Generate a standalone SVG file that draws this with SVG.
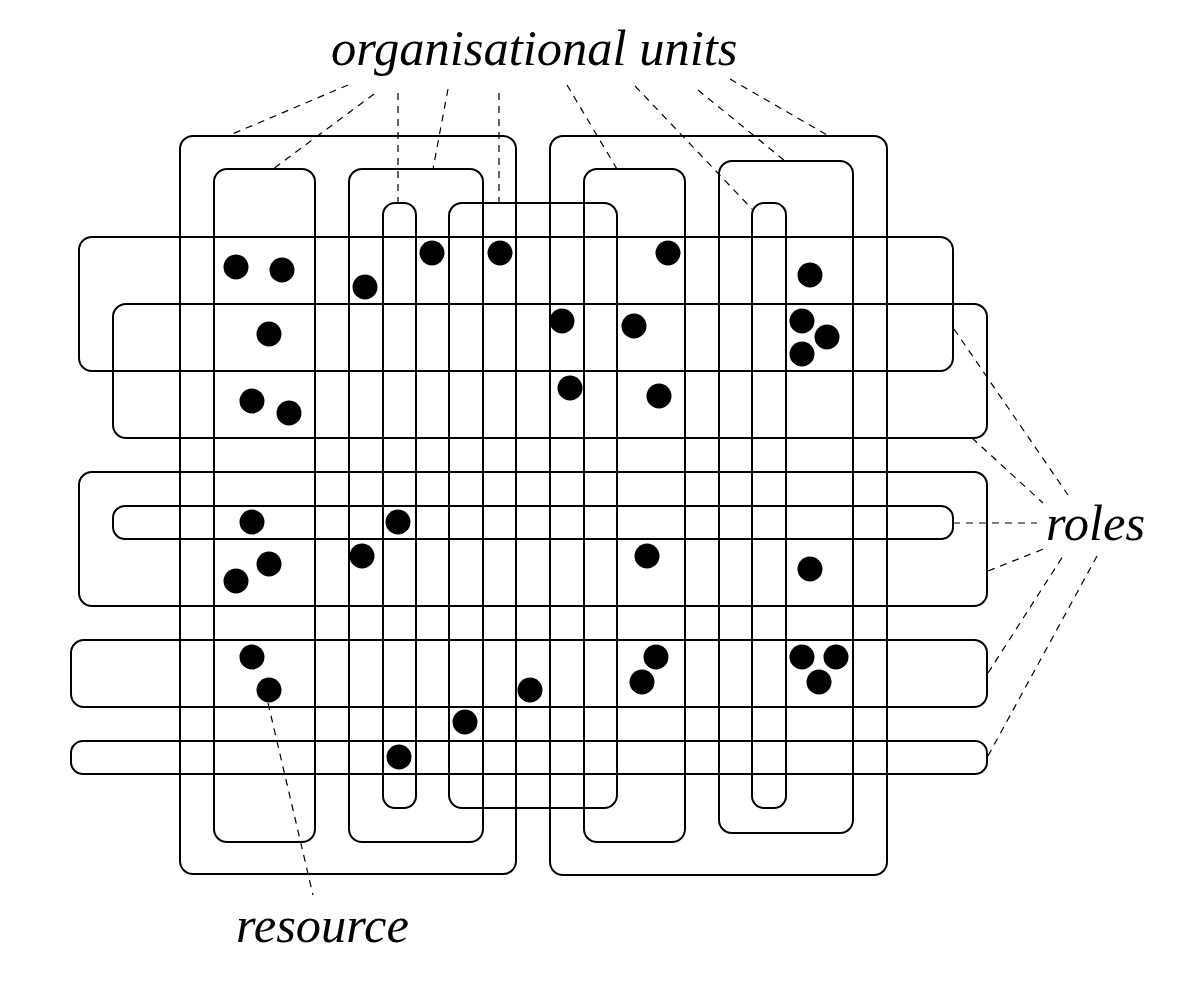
<svg xmlns="http://www.w3.org/2000/svg" width="1200" height="989" viewBox="0 0 1200 989">
<style>
.box{fill:none;stroke:#000;stroke-width:2}
.dash{fill:none;stroke:#000;stroke-width:1.2;stroke-dasharray:7,6}
.dot{fill:#000}
.lbl{font-family:"Liberation Serif","Times New Roman",serif;font-style:italic;font-size:50.5px;fill:#000}
</style>
<rect width="1200" height="989" fill="#fff"/>
<g id="org-units">
<rect id="ou1" class="box" x="180" y="136" width="336" height="738" rx="13"/>
<rect id="ou2" class="box" x="214" y="169" width="101" height="673" rx="13"/>
<rect id="ou3" class="box" x="349" y="169" width="134" height="673" rx="13"/>
<rect id="ou4" class="box" x="383" y="203" width="33" height="605" rx="12"/>
<rect id="ou5" class="box" x="449" y="203" width="168" height="605" rx="13"/>
<rect id="ou6" class="box" x="550" y="136" width="337" height="739" rx="13"/>
<rect id="ou7" class="box" x="584" y="169" width="101" height="673" rx="13"/>
<rect id="ou8" class="box" x="719" y="161" width="134" height="672" rx="13"/>
<rect id="ou9" class="box" x="752" y="203" width="34" height="605" rx="12"/>
</g>
<g id="roles">
<rect id="r1" class="box" x="79" y="237" width="874" height="134" rx="13"/>
<rect id="r2" class="box" x="113" y="304" width="874" height="134" rx="13"/>
<rect id="r3" class="box" x="79" y="472" width="908" height="134" rx="13"/>
<rect id="r4" class="box" x="113" y="506" width="840" height="33" rx="12"/>
<rect id="r5" class="box" x="71" y="640" width="916" height="67" rx="13"/>
<rect id="r6" class="box" x="71" y="741" width="916" height="33" rx="12"/>
</g>
<g id="resources">
<circle class="dot" cx="236" cy="267" r="12.5"/>
<circle class="dot" cx="282" cy="270" r="12.5"/>
<circle class="dot" cx="269" cy="334" r="12.5"/>
<circle class="dot" cx="252" cy="401" r="12.5"/>
<circle class="dot" cx="289" cy="413" r="12.5"/>
<circle class="dot" cx="365" cy="287" r="12.5"/>
<circle class="dot" cx="432" cy="253" r="12.5"/>
<circle class="dot" cx="500" cy="253" r="12.5"/>
<circle class="dot" cx="668" cy="253" r="12.5"/>
<circle class="dot" cx="562" cy="321" r="12.5"/>
<circle class="dot" cx="634" cy="326" r="12.5"/>
<circle class="dot" cx="570" cy="388" r="12.5"/>
<circle class="dot" cx="659" cy="396" r="12.5"/>
<circle class="dot" cx="810" cy="275" r="12.5"/>
<circle class="dot" cx="802" cy="321" r="12.5"/>
<circle class="dot" cx="827" cy="337" r="12.5"/>
<circle class="dot" cx="802" cy="354" r="12.5"/>
<circle class="dot" cx="252" cy="522" r="12.5"/>
<circle class="dot" cx="398" cy="522" r="12.5"/>
<circle class="dot" cx="362" cy="556" r="12.5"/>
<circle class="dot" cx="269" cy="564" r="12.5"/>
<circle class="dot" cx="236" cy="581" r="12.5"/>
<circle class="dot" cx="647" cy="556" r="12.5"/>
<circle class="dot" cx="810" cy="569" r="12.5"/>
<circle class="dot" cx="252" cy="657" r="12.5"/>
<circle class="dot" cx="269" cy="690" r="12.5"/>
<circle class="dot" cx="656" cy="657" r="12.5"/>
<circle class="dot" cx="642" cy="682" r="12.5"/>
<circle class="dot" cx="802" cy="657" r="12.5"/>
<circle class="dot" cx="836" cy="657" r="12.5"/>
<circle class="dot" cx="819" cy="682" r="12.5"/>
<circle class="dot" cx="530" cy="690" r="12.5"/>
<circle class="dot" cx="465" cy="722" r="12.5"/>
<circle class="dot" cx="399" cy="757" r="12.5"/>
</g>
<g id="connectors">
<line class="dash" x1="348" y1="85" x2="230" y2="135"/>
<line class="dash" x1="374" y1="94" x2="273" y2="169"/>
<line class="dash" x1="398" y1="93" x2="398" y2="203"/>
<line class="dash" x1="448" y1="89" x2="433" y2="169"/>
<line class="dash" x1="499" y1="93" x2="499" y2="203"/>
<line class="dash" x1="567" y1="85" x2="617" y2="169"/>
<line class="dash" x1="635" y1="86" x2="752" y2="209"/>
<line class="dash" x1="698" y1="90" x2="785" y2="161"/>
<line class="dash" x1="730" y1="79" x2="827" y2="135"/>
<line class="dash" x1="954" y1="329" x2="1068" y2="495"/>
<line class="dash" x1="972" y1="438" x2="1043" y2="503"/>
<line class="dash" x1="953" y1="523" x2="1037" y2="523"/>
<line class="dash" x1="988" y1="571" x2="1046" y2="548"/>
<line class="dash" x1="988" y1="673" x2="1063" y2="556"/>
<line class="dash" x1="988" y1="756" x2="1097" y2="556"/>
<line class="dash" x1="268" y1="703" x2="313" y2="895"/>
</g>
<g id="labels">
<text class="lbl" x="331" y="65">organisational units</text>
<text class="lbl" x="1046" y="540">roles</text>
<text class="lbl" x="236" y="942">resource</text>
</g>
</svg>
